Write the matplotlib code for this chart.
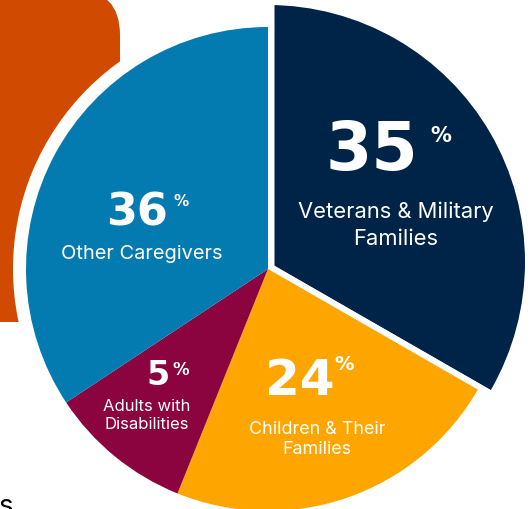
import numpy as np
import matplotlib
matplotlib.use("Agg")
import matplotlib.pyplot as plt
from matplotlib.patches import FancyBboxPatch
from matplotlib.path import Path

# shares as drawn in the picture (the wedges are not to scale with the labels)
groups = ["Veterans & Military\nFamilies", "Children & Their\nFamilies",
          "Adults with\nDisabilities", "Other Caregivers"]
labels_pct = [35, 24, 5, 36]
drawn_share = [33.3, 22.8, 9.6, 34.3]
colors = ["#002448", "#FFA500", "#8B0440", "#037BB0"]

W, H = 530, 509
fig = plt.figure(figsize=(W / 100, H / 100), dpi=100)
ax = fig.add_axes([0, 0, 1, 1])

CX, CY, R = 268, 240, 242          # pie centre in px (y up)

# orange block behind the chart
ax.add_patch(FancyBboxPatch((-80, 187), 200, 332,
                            boxstyle="round,pad=0,rounding_size=45",
                            fc="#D04A02", ec="none", zorder=0))
# white halo round the pie
ax.pie([1], colors=["white"], radius=255, center=(CX, CY),
       wedgeprops=dict(linewidth=0, zorder=1))

wedges, _ = ax.pie(drawn_share, colors=colors, radius=R, center=(CX, CY),
                   startangle=90, counterclock=False,
                   wedgeprops=dict(linewidth=0, zorder=2))

# pulled-out navy slice: bigger, nudged up, with a white gap on its sides
navy = wedges[0]
navy.set_center((CX, CY + 7))
navy.set_radius(257)
ax_, ay_ = CX + 6.5, CY + 3       # apex of the pulled-out slice
t = np.radians(np.linspace(navy.theta1, navy.theta2, 30))
verts = [(ax_, ay_)] + [(ax_ + 800 * np.cos(a), ay_ + 800 * np.sin(a)) for a in t]
verts.append((ax_, ay_))
codes = [Path.MOVETO] + [Path.LINETO] * (len(verts) - 2) + [Path.CLOSEPOLY]
navy.set_clip_path(Path(verts, codes), ax.transData)
navy.set_clip_on(True)            # pie turns clipping off by default

big = ["DejaVu Sans"]
small = ["Inter", "DejaVu Sans"]
txt = dict(color="white", ha="center", va="baseline", zorder=5)

# (x, baseline, size) for number, percent sign and caption
spots = [
    dict(n=(372, 339, 48), p=(441, 367, 15), c=(396, 291, 15.8), lh=27),
    dict(n=(300, 114, 36), p=(344, 139, 14), c=(317, 75, 12.9), lh=20),
    dict(n=(158, 124, 24), p=(181, 134, 12), c=(147, 98, 12), lh=18),
    dict(n=(137, 284, 32), p=(181, 303, 11), c=(142, 250, 14.4), lh=20),
]
for g, v, s in zip(groups, labels_pct, spots):
    x, y, fs = s["n"]
    ax.text(x, y, str(v), fontsize=fs, fontweight="bold", family=big, **txt)
    x, y, fs = s["p"]
    ax.text(x, y, "%", fontsize=fs, fontweight="bold", family=big, **txt)
    x, y, fs = s["c"]
    for i, line in enumerate(g.split("\n")):
        ax.text(x, y - i * s["lh"], line, fontsize=fs, family=small, **txt)

# cut-off word at the bottom-left edge
ax.text(13, -5, "s", fontsize=20, color="black", family=small,
        ha="right", va="baseline")

ax.set_xlim(0, W)
ax.set_ylim(0, H)
ax.set_aspect("auto")
ax.axis("off")
fig.savefig("out.png", dpi=100, facecolor="white")
